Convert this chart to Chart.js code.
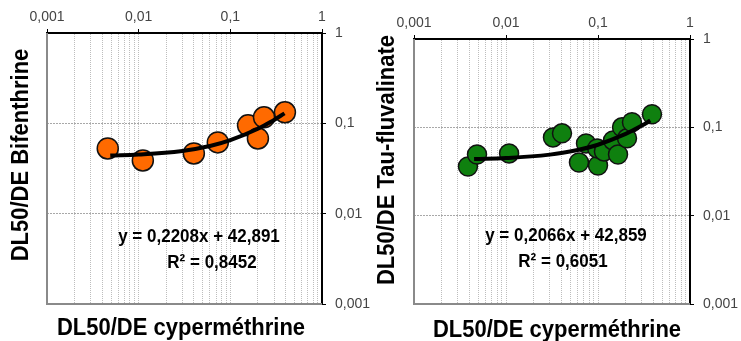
<!DOCTYPE html>
<html lang="fr">
<head>
<meta charset="UTF-8">
<title>DL50/DE cyperméthrine</title>
<script src="https://cdn.jsdelivr.net/npm/chart.js@4.4.1/dist/chart.umd.min.js"></script>
<style>
  body { margin: 0; background: #fff; }
  .panel { position: absolute; top: 0; height: 341px; }
  #left { left: 0; width: 370px; }
  #right { left: 370px; width: 371px; }
</style>
</head>
<body>
<div class="panel" id="left"><canvas id="c1"></canvas></div>
<div class="panel" id="right"><canvas id="c2"></canvas></div>
<script>
// axis decades and their labels
const decades = [0.001, 0.01, 0.1, 1];
const tickLabels = ['0,001', '0,01', '0,1', '1'];

// Bifenthrine vs cyperméthrine
const bifX = [0.0046, 0.0111, 0.040, 0.073, 0.156, 0.200, 0.233, 0.394];
const bifY = [0.0527, 0.0388, 0.0464, 0.0615, 0.095, 0.068, 0.1166, 0.1325];
const bifTrendX = [0.0049, 0.01, 0.03, 0.06, 0.1, 0.2, 0.3, 0.39];
const bifTrendY = [0.0440, 0.0451, 0.0495, 0.0561, 0.0650, 0.0871, 0.1091, 0.1290];

// Tau-fluvalinate vs cyperméthrine
const tauX = [0.00386, 0.00484, 0.0108, 0.0324, 0.0406, 0.0741, 0.0621, 0.100, 0.098, 0.116, 0.1456, 0.165, 0.1824, 0.2067, 0.234, 0.386];
const tauY = [0.0360, 0.0493, 0.0507, 0.0769, 0.0855, 0.0658, 0.0400, 0.0370, 0.0577, 0.0534, 0.0711, 0.0493, 0.100, 0.075, 0.114, 0.1406];
const tauTrendX = [0.0045, 0.01, 0.03, 0.06, 0.1, 0.2, 0.3, 0.37];
const tauTrendY = [0.0438, 0.0449, 0.0491, 0.0553, 0.0635, 0.0842, 0.1048, 0.1193];

const xTicks = [];
decades.forEach((d, i) => {
  if (i === decades.length - 1) { xTicks.push(d); return; }
  for (let m = 1; m < 10; m++) xTicks.push(+(d * m).toPrecision(3));
});

const isDecade = v => decades.some(d => Math.abs(d - v) < d * 1e-6);
const labelFor = v => {
  const k = decades.findIndex(d => Math.abs(d - v) < d * 1e-6);
  return k < 0 ? '' : tickLabels[k];
};
const pts = (xs, ys) => xs.map((x, i) => ({ x, y: ys[i] }));

const FONT = "'Liberation Sans', Arial, sans-serif";

// text a bit taller than wide, like the original figure
function tallText(ctx, txt, x, y, rot) {
  ctx.save();
  ctx.translate(x, y);
  if (rot) ctx.rotate(-Math.PI / 2);
  ctx.scale(1, 1.12);
  ctx.fillText(txt, 0, 0);
  ctx.restore();
}

const decor = {
  id: 'decor',
  beforeDatasetsDraw(chart) {
    const { ctx, chartArea: a } = chart;
    ctx.save();
    ctx.strokeStyle = '#8a8a8a';
    ctx.lineWidth = 2;
    ctx.beginPath();
    ctx.moveTo(a.left, a.top);
    ctx.lineTo(a.left, a.bottom);
    ctx.lineTo(a.right, a.bottom);
    ctx.stroke();
    ctx.restore();
  },
  afterDraw(chart, args, o) {
    const ctx = chart.ctx;
    ctx.save();
    ctx.fillStyle = '#000';
    ctx.textAlign = 'center';
    ctx.textBaseline = 'middle';
    ctx.font = 'bold 22px ' + FONT;
    tallText(ctx, o.xTitle, o.xt[0], o.xt[1], false);
    tallText(ctx, o.yTitle, o.yt[0], o.yt[1], true);
    ctx.font = 'bold 17px ' + FONT;
    tallText(ctx, o.eq, o.eqPos[0], o.eqPos[1], false);
    tallText(ctx, o.r2, o.r2Pos[0], o.r2Pos[1], false);
    ctx.restore();
  }
};

function makeChart(id, cfg) {
  return new Chart(document.getElementById(id), {
    type: 'scatter',
    data: {
      datasets: [
        {
          data: pts(cfg.trendX, cfg.trendY),
          showLine: true,
          borderColor: '#000',
          borderWidth: 4,
          pointRadius: 0,
          tension: 0.4,
          order: 0
        },
        {
          data: pts(cfg.x, cfg.y),
          backgroundColor: cfg.color,
          borderColor: '#111',
          borderWidth: 1.5,
          pointRadius: cfg.radius,
          order: 1
        }
      ]
    },
    options: {
      responsive: true,
      maintainAspectRatio: false,
      animation: false,
      layout: { padding: { left: cfg.padLeft, right: 0, top: 0, bottom: 37 } },
      plugins: {
        legend: { display: false },
        tooltip: { enabled: false },
        decor: cfg.text
      },
      scales: {
        x: {
          type: 'logarithmic',
          position: 'top',
          min: 0.001,
          max: 1,
          afterBuildTicks: s => { s.ticks = xTicks.map(v => ({ value: v })); },
          afterFit: s => { s.height = cfg.top; },
          ticks: {
            autoSkip: false,
            maxRotation: 0,
            padding: 3,
            color: '#444',
            font: { family: FONT, size: 14 },
            callback: v => labelFor(v)
          },
          grid: {
            color: '#bdbdbd',
            lineWidth: 1,
            tickLength: 4,
            tickBorderDash: [],
            tickColor: c => (c.tick && isDecade(c.tick.value)) ? '#000' : 'rgba(0,0,0,0)'
          },
          border: { color: '#000', width: 2, dash: [1, 1] }
        },
        y: {
          type: 'logarithmic',
          position: 'right',
          min: 0.001,
          max: 1,
          afterBuildTicks: s => { s.ticks = decades.map(v => ({ value: v })); },
          afterFit: s => { s.width = cfg.axisW; },
          ticks: {
            padding: 9,
            color: '#444',
            font: { family: FONT, size: 14 },
            callback: v => labelFor(v)
          },
          grid: {
            color: '#a8a8a8',
            lineWidth: 1,
            tickLength: 4,
            tickBorderDash: [],
            tickColor: '#000'
          },
          border: { color: '#000', width: 2, dash: [2, 1] }
        }
      }
    },
    plugins: [decor]
  });
}

makeChart('c1', {
  x: bifX, y: bifY, trendX: bifTrendX, trendY: bifTrendY,
  color: '#ff6a00', radius: 10.5,
  padLeft: 47, axisW: 48, top: 33,
  text: {
    xTitle: 'DL50/DE cyperméthrine', xt: [181, 328],
    yTitle: 'DL50/DE Bifenthrine', yt: [21, 155],
    eq: 'y = 0,2208x + 42,891', eqPos: [199, 237],
    r2: 'R² = 0,8452', r2Pos: [212, 263]
  }
});

makeChart('c2', {
  x: tauX, y: tauY, trendX: tauTrendX, trendY: tauTrendY,
  color: '#0f800f', radius: 9.5,
  padLeft: 44, axisW: 51, top: 39,
  text: {
    xTitle: 'DL50/DE cyperméthrine', xt: [187, 330],
    yTitle: 'DL50/DE Tau-fluvalinate', yt: [17, 160],
    eq: 'y = 0,2066x + 42,859', eqPos: [196, 236],
    r2: 'R² = 0,6051', r2Pos: [193, 262]
  }
});
</script>
</body>
</html>
